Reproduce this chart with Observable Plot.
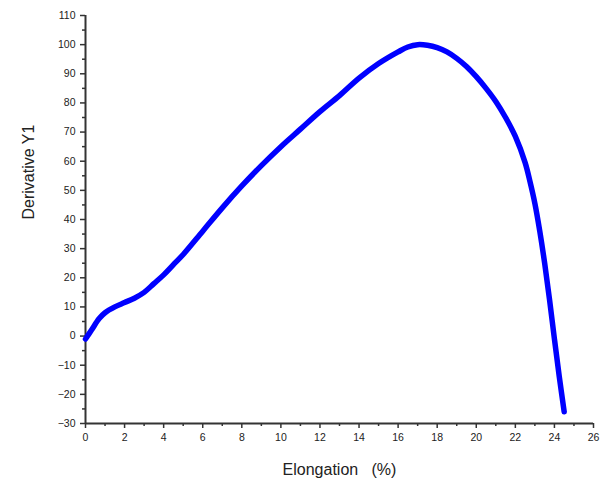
<!DOCTYPE html>
<html>
<head>
<meta charset="utf-8">
<script src="https://cdn.jsdelivr.net/npm/d3@7"></script>
<script src="https://cdn.jsdelivr.net/npm/@observablehq/plot@0.6"></script>
<style>
  html, body { margin: 0; padding: 0; background: #fff; }
  svg text { white-space: pre; }
</style>
</head>
<body>
<div id="chart"></div>
<script>
const elongation = [0, 0.3, 0.7, 1.0, 1.5, 2, 2.5, 3, 3.5, 4, 4.5, 5, 6, 7, 8, 9, 10, 11, 12, 13, 14, 15, 16, 16.5, 17, 17.5, 18, 18.5, 19, 19.5, 20, 20.5, 21, 21.5, 22, 22.5, 22.75, 23, 23.25, 23.5, 23.75, 24, 24.25, 24.5];
const derivative = [-1, 2, 6, 8, 10, 11.5, 13, 15, 18, 21, 24.5, 28, 36, 44, 51.5, 58.5, 65, 71, 77, 82.5, 88.5, 93.5, 97.5, 99.2, 100, 99.8, 99, 97.5, 95.3, 92.5, 89, 85, 80.5, 75, 68.5, 59.5, 53, 45.5, 36, 25, 12.5, -1, -14, -26];
const xMajorTicks = [0, 2, 4, 6, 8, 10, 12, 14, 16, 18, 20, 22, 24, 26];
const xMinorTicks = [1, 3, 5, 7, 9, 11, 13, 15, 17, 19, 21, 23, 25];
const yMajorTicks = [-30, -20, -10, 0, 10, 20, 30, 40, 50, 60, 70, 80, 90, 100, 110];
const yMinorTicks = [-25, -15, -5, 5, 15, 25, 35, 45, 55, 65, 75, 85, 95, 105];
const xTitle = "Elongation   (%)";
const yTitle = "Derivative Y1";

const data = elongation.map((x, i) => ({x, y: derivative[i]}));
const axisColor = "#333";

const chart = Plot.plot({
  width: 609,
  height: 488,
  marginLeft: 85,
  marginRight: 16,
  marginTop: 15,
  marginBottom: 65,
  style: {fontFamily: "'Liberation Sans', Arial, sans-serif", color: "#222", background: "#fff"},
  x: {domain: [0, 26]},
  y: {domain: [-30, 110]},
  marks: [
    Plot.axisX(xMajorTicks, {tickSize: 5, tickPadding: 5, fontSize: 10.5, stroke: axisColor, strokeWidth: 1.5, label: null}),
    Plot.axisX(xMinorTicks, {tickSize: 3, tickFormat: () => "", stroke: axisColor, strokeWidth: 1.5, label: null}),
    Plot.axisY(yMajorTicks, {tickSize: 5, tickPadding: 5, fontSize: 10.5, stroke: axisColor, strokeWidth: 1.5, label: null}),
    Plot.axisY(yMinorTicks, {tickSize: 3, tickFormat: () => "", stroke: axisColor, strokeWidth: 1.5, label: null}),
    Plot.ruleY([-30], {stroke: axisColor, strokeWidth: 2}),
    Plot.ruleX([0], {stroke: axisColor, strokeWidth: 2}),
    Plot.line(data, {x: "x", y: "y", stroke: "#0000ff", strokeWidth: 5.5, curve: "catmull-rom"}),
    Plot.text([xTitle], {text: d => d, frameAnchor: "bottom", dy: 51, fontSize: 16, fill: "#222"}),
    Plot.text([yTitle], {text: d => d, frameAnchor: "left", dx: -57, rotate: -90, fontSize: 16, fill: "#222"})
  ]
});
document.getElementById("chart").appendChild(chart);
</script>
</body>
</html>
